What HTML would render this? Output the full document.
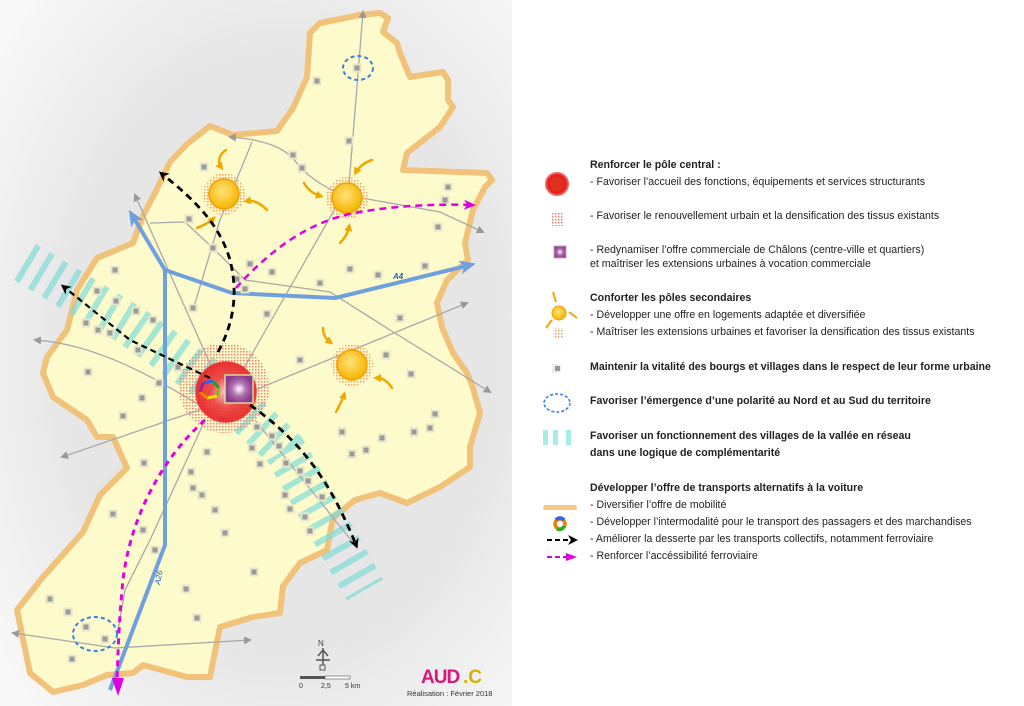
<!DOCTYPE html>
<html><head><meta charset="utf-8"><style>
body{margin:0;width:1024px;height:706px;overflow:hidden;background:#fff;font-family:"Liberation Sans",sans-serif}
svg{position:absolute;left:0;top:0}
.t{position:absolute;left:590px;font-size:10.6px;color:#222;white-space:nowrap;line-height:13px}
.b{font-weight:bold}
</style></head><body>
<svg width="1024" height="706" viewBox="0 0 1024 706">
<defs>
<radialGradient id="bg" cx="0.55" cy="0.5" r="0.7"><stop offset="0.6" stop-color="#e6e6e6"/><stop offset="1" stop-color="#f8f8f8"/></radialGradient>
<radialGradient id="sun" cx="0.45" cy="0.4" r="0.6"><stop offset="0" stop-color="#ffe27a"/><stop offset="1" stop-color="#f6b400"/></radialGradient>
<radialGradient id="red" cx="0.5" cy="0.5" r="0.5"><stop offset="0" stop-color="#ffd0c8"/><stop offset="0.5" stop-color="#f04040"/><stop offset="1" stop-color="#e82020"/></radialGradient>
<radialGradient id="pur" cx="0.5" cy="0.5" r="0.5"><stop offset="0" stop-color="#fff"/><stop offset="0.5" stop-color="#b070b0"/><stop offset="1" stop-color="#8a3a8a"/></radialGradient>
<pattern id="hr" width="3" height="3" patternUnits="userSpaceOnUse"><rect width="1.5" height="1.5" fill="#f28070"/></pattern>
<pattern id="ho" width="3" height="3" patternUnits="userSpaceOnUse"><rect width="1.5" height="1.5" fill="#f5a060"/></pattern>
<marker id="ab" markerWidth="10" markerHeight="10" refX="6" refY="5" orient="auto" markerUnits="userSpaceOnUse"><path d="M0,0 L10,5 L0,10 L3,5Z" fill="#000"/></marker>
<marker id="am" markerWidth="12" markerHeight="10" refX="8" refY="5" orient="auto" markerUnits="userSpaceOnUse"><path d="M0,0 L12,5 L0,10 L3,5Z" fill="#e000e0"/></marker>
<marker id="ag" markerWidth="8" markerHeight="8" refX="6" refY="4" orient="auto" markerUnits="userSpaceOnUse"><path d="M0,0 L8,4 L0,8Z" fill="#999"/></marker>
<marker id="abl" markerWidth="16" markerHeight="14" refX="10" refY="7" orient="auto" markerUnits="userSpaceOnUse"><path d="M0,0 L16,7 L0,14 L4,7Z" fill="#6fa0dc"/></marker>
<marker id="ao" markerWidth="8" markerHeight="8" refX="4" refY="4" orient="auto" markerUnits="userSpaceOnUse"><path d="M0,0 L8,4 L0,8Z" fill="#f0a800"/></marker>
</defs>
<rect x="0" y="0" width="512" height="706" fill="url(#bg)"/>
<path d="M310,33 L320,23 360,15 380,13 388,18 383,32 397,43 400,53 410,77 443,72 448,80 448,100 453,107 440,127 407,153 403,170 487,173 492,180 485,187 473,210 465,243 468,260 447,280 437,303 442,327 453,353 467,373 472,385 480,413 470,447 470,467 440,487 407,503 380,493 355,500 333,518 327,550 300,563 283,586 280,613 253,617 220,627 210,677 187,677 143,665 133,673 107,675 83,685 53,692 30,673 17,610 43,577 83,532 100,495 127,468 113,437 97,437 87,420 53,397 43,373 47,357 67,330 77,290 97,258 133,243 143,216 157,189 170,162 187,144 210,126 233,135 277,131 293,108 307,77 Z" fill="#fdfbcc" stroke="#f0c27a" stroke-width="6" stroke-linejoin="round"/>
<!-- stripes band -->
<path d="M25,262 L130,325 L215,385 L285,450 L365,590" fill="none" stroke="#7fdbd6" stroke-opacity="0.7" stroke-width="42" stroke-dasharray="6 10"/>
<!-- gray roads -->
<g fill="none" stroke="#a8a8a8" stroke-width="1.3">
<path d="M349,185 L363,12" marker-end="url(#ag)"/>
<path d="M300,168 C290,150 270,140 230,137" marker-end="url(#ag)"/>
<path d="M300,168 C320,185 330,190 345,195 L440,212 L483,232" marker-end="url(#ag)"/>
<path d="M205,408 C180,395 110,345 35,340" marker-end="url(#ag)"/>
<path d="M205,408 L62,457" marker-end="url(#ag)"/>
<path d="M215,375 L135,195" marker-end="url(#ag)"/>
<path d="M193,310 L220,220 L252,142"/>
<path d="M240,375 L340,200"/>
<path d="M250,392 L467,303" marker-end="url(#ag)"/>
<path d="M150,223 L185,222 L215,250 L245,280 L330,292 L390,330 L490,392" marker-end="url(#ag)"/>
<path d="M205,420 L150,540 L125,590 L118,630"/>
<path d="M255,420 L355,545"/>
<path d="M115,648 L13,633" marker-end="url(#ag)"/>
<path d="M115,648 L250,640" marker-end="url(#ag)"/>
</g>
<!-- blue roads -->
<g fill="none" stroke="#6fa0dc" stroke-width="4" stroke-linejoin="round">
<path d="M165,270 L132,215" marker-end="url(#abl)"/>
<path d="M165,270 L165,545 L110,690"/>
<path d="M165,270 L232,293 L335,298 L470,265" marker-end="url(#abl)"/>
</g>
<text x="393" y="279" font-size="8" fill="#1a5fd0" font-style="italic" font-weight="bold">A4</text>
<text x="160" y="585" font-size="8" fill="#1a5fd0" font-style="italic" transform="rotate(-80 160 585)">A26</text>
<!-- villages -->
<g fill="#9a9a9a" stroke="#e8e6c8" stroke-width="2">
<rect x="313.5" y="77.5" width="7" height="7"/><rect x="353.5" y="64.5" width="7" height="7"/><rect x="345.5" y="137.5" width="7" height="7"/><rect x="289.5" y="151.5" width="7" height="7"/><rect x="298.5" y="164.5" width="7" height="7"/><rect x="200.5" y="163.5" width="7" height="7"/><rect x="185.5" y="215.5" width="7" height="7"/><rect x="209.5" y="244.5" width="7" height="7"/><rect x="246.5" y="260.5" width="7" height="7"/><rect x="233.5" y="275.5" width="7" height="7"/><rect x="241.5" y="285.5" width="7" height="7"/><rect x="268.5" y="268.5" width="7" height="7"/><rect x="111.5" y="266.5" width="7" height="7"/><rect x="93.5" y="287.5" width="7" height="7"/><rect x="112.5" y="297.5" width="7" height="7"/><rect x="132.5" y="307.5" width="7" height="7"/><rect x="149.5" y="316.5" width="7" height="7"/><rect x="82.5" y="319.5" width="7" height="7"/><rect x="94.5" y="326.5" width="7" height="7"/><rect x="106.5" y="329.5" width="7" height="7"/><rect x="189.5" y="304.5" width="7" height="7"/><rect x="263.5" y="310.5" width="7" height="7"/><rect x="316.5" y="279.5" width="7" height="7"/><rect x="346.5" y="265.5" width="7" height="7"/><rect x="374.5" y="271.5" width="7" height="7"/><rect x="421.5" y="262.5" width="7" height="7"/><rect x="444.5" y="183.5" width="7" height="7"/><rect x="441.5" y="196.5" width="7" height="7"/><rect x="434.5" y="223.5" width="7" height="7"/><rect x="396.5" y="314.5" width="7" height="7"/><rect x="382.5" y="351.5" width="7" height="7"/><rect x="407.5" y="370.5" width="7" height="7"/><rect x="296.5" y="356.5" width="7" height="7"/><rect x="134.5" y="346.5" width="7" height="7"/><rect x="84.5" y="368.5" width="7" height="7"/><rect x="155.5" y="379.5" width="7" height="7"/><rect x="138.5" y="394.5" width="7" height="7"/><rect x="119.5" y="412.5" width="7" height="7"/><rect x="174.5" y="363.5" width="7" height="7"/><rect x="218.5" y="415.5" width="7" height="7"/><rect x="253.5" y="423.5" width="7" height="7"/><rect x="431.5" y="410.5" width="7" height="7"/><rect x="426.5" y="424.5" width="7" height="7"/><rect x="410.5" y="428.5" width="7" height="7"/><rect x="338.5" y="428.5" width="7" height="7"/><rect x="378.5" y="434.5" width="7" height="7"/><rect x="348.5" y="450.5" width="7" height="7"/><rect x="362.5" y="446.5" width="7" height="7"/><rect x="248.5" y="444.5" width="7" height="7"/><rect x="268.5" y="432.5" width="7" height="7"/><rect x="275.5" y="442.5" width="7" height="7"/><rect x="203.5" y="448.5" width="7" height="7"/><rect x="140.5" y="459.5" width="7" height="7"/><rect x="256.5" y="460.5" width="7" height="7"/><rect x="282.5" y="459.5" width="7" height="7"/><rect x="296.5" y="467.5" width="7" height="7"/><rect x="304.5" y="477.5" width="7" height="7"/><rect x="318.5" y="493.5" width="7" height="7"/><rect x="281.5" y="491.5" width="7" height="7"/><rect x="286.5" y="505.5" width="7" height="7"/><rect x="301.5" y="513.5" width="7" height="7"/><rect x="306.5" y="527.5" width="7" height="7"/><rect x="187.5" y="468.5" width="7" height="7"/><rect x="189.5" y="484.5" width="7" height="7"/><rect x="198.5" y="491.5" width="7" height="7"/><rect x="211.5" y="506.5" width="7" height="7"/><rect x="221.5" y="529.5" width="7" height="7"/><rect x="109.5" y="510.5" width="7" height="7"/><rect x="139.5" y="526.5" width="7" height="7"/><rect x="151.5" y="546.5" width="7" height="7"/><rect x="250.5" y="568.5" width="7" height="7"/><rect x="182.5" y="585.5" width="7" height="7"/><rect x="193.5" y="614.5" width="7" height="7"/><rect x="46.5" y="595.5" width="7" height="7"/><rect x="64.5" y="608.5" width="7" height="7"/><rect x="82.5" y="623.5" width="7" height="7"/><rect x="101.5" y="635.5" width="7" height="7"/><rect x="68.5" y="655.5" width="7" height="7"/>
</g>
<!-- centre -->
<circle cx="224" cy="388" r="45" fill="url(#hr)"/>
<circle cx="226" cy="392" r="30" fill="url(#red)" stroke="#e83030" stroke-width="1.5" opacity="0.9"/>
<rect x="225" y="375" width="28" height="28" fill="url(#pur)" stroke="#d8d8a0" stroke-width="1.5"/>
<g stroke-width="3" fill="none">
<path d="M203,383 L213,381" stroke="#3060f0"/><path d="M213,381 L219,388" stroke="#20a020"/><path d="M219,388 L217,396" stroke="#70c020"/><path d="M217,396 L207,398" stroke="#f0e000"/><path d="M207,398 L200,392" stroke="#f08000"/><path d="M200,392 L203,383" stroke="#a020a0"/>
</g>
<!-- suns -->
<g>
<circle cx="224" cy="194" r="21" fill="url(#ho)"/><circle cx="224" cy="194" r="15" fill="url(#sun)" stroke="#f0a000" stroke-width="1.5"/>
<circle cx="347" cy="198" r="21" fill="url(#ho)"/><circle cx="347" cy="198" r="15" fill="url(#sun)" stroke="#f0a000" stroke-width="1.5"/>
<circle cx="352" cy="365" r="21" fill="url(#ho)"/><circle cx="352" cy="365" r="15" fill="url(#sun)" stroke="#f0a000" stroke-width="1.5"/>
</g>
<g fill="none" stroke="#f0a800" stroke-width="2.5" stroke-linecap="round">
<path d="M226,150 C218,155 218,163 221,167" marker-end="url(#ao)"/>
<path d="M267,210 C260,203 253,200 247,201" marker-end="url(#ao)"/>
<path d="M197,228 C203,225 208,224 213,219" marker-end="url(#ao)"/>
<path d="M372,160 C365,162 358,168 356,172" marker-end="url(#ao)"/>
<path d="M304,183 C308,190 314,194 320,196" marker-end="url(#ao)"/>
<path d="M340,243 C345,238 348,233 349,227" marker-end="url(#ao)"/>
<path d="M323,328 C323,335 326,339 330,342" marker-end="url(#ao)"/>
<path d="M392,388 C387,380 382,378 377,378" marker-end="url(#ao)"/>
<path d="M336,412 C339,406 342,401 344,395" marker-end="url(#ao)"/>
</g>
<!-- dashed arrows -->
<path d="M218,352 C230,330 240,300 230,260 C220,225 195,200 162,174" fill="none" stroke="#000" stroke-width="2.8" stroke-dasharray="7 5" marker-end="url(#ab)"/>
<path d="M210,378 L130,340 L64,287" fill="none" stroke="#000" stroke-width="2.2" stroke-dasharray="6 4" marker-end="url(#ab)"/>
<path d="M250,405 C300,440 330,480 356,545" fill="none" stroke="#000" stroke-width="2.8" stroke-dasharray="7 5" marker-end="url(#ab)"/>
<path d="M236,288 C270,250 310,220 360,212 C400,205 440,204 472,205" fill="none" stroke="#e000e0" stroke-width="2.5" stroke-dasharray="7 5" marker-end="url(#am)"/>
<path d="M205,420 C160,460 130,520 123,580 C118,630 118,660 117,680" fill="none" stroke="#e000e0" stroke-width="3" stroke-dasharray="6 5"/>
<path d="M112,678 L124,678 L118,696Z" fill="#e000e0"/>
<!-- polarity ellipses -->
<ellipse cx="358" cy="68" rx="15" ry="12" fill="none" stroke="#3a80e0" stroke-width="2" stroke-dasharray="4 3"/>
<ellipse cx="95" cy="634" rx="22" ry="17" fill="none" stroke="#3a80e0" stroke-width="2" stroke-dasharray="4 3"/>
<!-- north / scale -->
<text x="318" y="646" font-size="8" fill="#444">N</text>
<path d="M323,648 L323,665 M318,656 L323,650 L328,656 M316,660 L330,660" stroke="#555" stroke-width="1.5" fill="none"/>
<rect x="320" y="665" width="5" height="5" fill="none" stroke="#555"/>
<rect x="300" y="676" width="25" height="3" fill="#555"/><rect x="325" y="676" width="25" height="3" fill="#fff" stroke="#555" stroke-width="0.6"/>
<text x="299" y="688" font-size="7" fill="#333">0</text><text x="321" y="688" font-size="7" fill="#333">2,5</text><text x="345" y="688" font-size="7" fill="#333">5 km</text>
<text x="421" y="683" font-size="19" font-weight="bold" fill="#d8167a" letter-spacing="-1">AUD</text><text x="463" y="683" font-size="19" font-weight="bold" fill="#d8b000">.C</text>
<text x="407" y="696" font-size="7.5" fill="#333">Réalisation : Février 2018</text>
<!-- legend icons -->
<circle cx="557" cy="184" r="11" fill="#e82020" stroke="#f06060" stroke-width="2"/><circle cx="557" cy="184" r="7" fill="#e03020"/>
<rect x="552" y="213" width="12" height="13" fill="url(#hr)"/>
<rect x="554" y="246" width="12" height="12" fill="url(#pur)" stroke="#c8a0c8"/>
<circle cx="559" cy="313" r="7" fill="url(#sun)" stroke="#f0a000"/>
<path d="M553,292 L556,302 M577,318 L569,312 M546,328 L552,320" stroke="#f0a800" stroke-width="2"/>
<rect x="553" y="328" width="11" height="11" fill="url(#ho)"/>
<rect x="552" y="364" width="9" height="9" fill="#eee"/><rect x="555" y="366" width="5" height="5" fill="#999"/>
<ellipse cx="557" cy="403" rx="13" ry="9" fill="none" stroke="#3a80e0" stroke-width="1.6" stroke-dasharray="3 2"/>
<rect x="543" y="430" width="5" height="15" fill="#a8ece8"/><rect x="553" y="430" width="5" height="15" fill="#a8ece8"/><rect x="566" y="430" width="5" height="15" fill="#a8ece8"/>
<rect x="543" y="505" width="34" height="5" rx="2.5" fill="#f6c98a"/>
<circle cx="560" cy="524" r="5" fill="none" stroke="#f08000" stroke-width="3.5"/><path d="M556,520 A5,5 0 0 1 564,520" stroke="#3060f0" stroke-width="3.5" fill="none"/><path d="M564,526 A5,5 0 0 1 557,529" stroke="#20b020" stroke-width="3.5" fill="none"/>
<path d="M547,540 L568,540" stroke="#000" stroke-width="2" stroke-dasharray="5 3"/><path d="M568,535 L578,540 L568,545 L571,540Z" fill="#000"/>
<path d="M547,557 L568,557" stroke="#e000e0" stroke-width="2" stroke-dasharray="5 3"/><path d="M566,553 L577,557 L566,561Z" fill="#e000e0"/>
</svg>
<div class="t b" style="top:159px">Renforcer le pôle central :</div>
<div class="t" style="top:176px">- Favoriser l’accueil des fonctions, équipements et services structurants</div>
<div class="t" style="top:210px">- Favoriser le renouvellement urbain et la densification des tissus existants</div>
<div class="t" style="top:244px">- Redynamiser l’offre commerciale de Châlons (centre-ville et quartiers)</div>
<div class="t" style="top:258px">et maîtriser les extensions urbaines à vocation commerciale</div>
<div class="t b" style="top:292px">Conforter les pôles secondaires</div>
<div class="t" style="top:309px">- Développer une offre en logements adaptée et diversifiée</div>
<div class="t" style="top:326px">- Maîtriser les extensions urbaines et favoriser la densification des tissus existants</div>
<div class="t b" style="top:361px">Maintenir la vitalité des bourgs et villages dans le respect de leur forme urbaine</div>
<div class="t b" style="top:395px">Favoriser l’émergence d’une polarité au Nord et au Sud du territoire</div>
<div class="t b" style="top:430px">Favoriser un fonctionnement des villages de la vallée en réseau</div>
<div class="t b" style="top:447px">dans une logique de complémentarité</div>
<div class="t b" style="top:482px">Développer l’offre de transports alternatifs à la voiture</div>
<div class="t" style="top:499px">- Diversifier l’offre de mobilité</div>
<div class="t" style="top:516px">- Développer l’intermodalité pour le transport des passagers et des marchandises</div>
<div class="t" style="top:533px">- Améliorer la desserte par les transports collectifs, notamment ferroviaire</div>
<div class="t" style="top:550px">- Renforcer l’accéssibilité ferroviaire</div>
</body></html>
